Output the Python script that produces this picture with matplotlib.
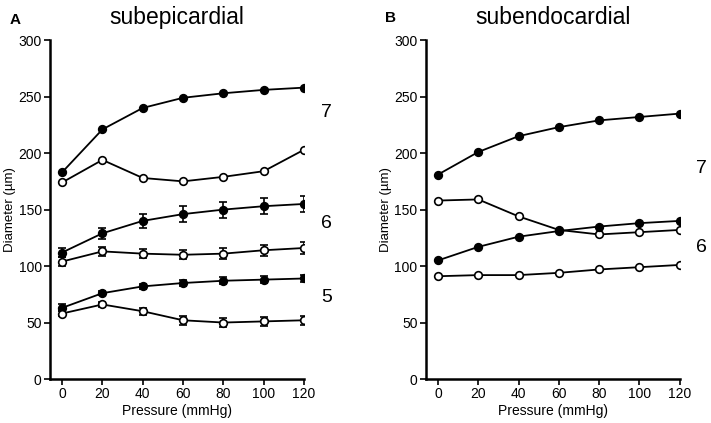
import matplotlib.pyplot as plt
import numpy as np

plt.rcParams['font.family'] = ['Liberation Sans', 'DejaVu Sans']

#-------------------------------
#         data
#-------------------------------
pressure = [0, 20, 40, 60, 80, 100, 120]

# subepicardial (A)
epi_closed_7 = [183, 221, 240, 249, 253, 256, 258]
epi_open_7 = [174, 194, 178, 175, 179, 184, 203]
epi_closed_6 = [112, 129, 140, 146, 150, 153, 155]
epi_closed_6_err = [4, 5, 6, 7, 7, 7, 7]
epi_open_6 = [104, 113, 111, 110, 111, 114, 116]
epi_open_6_err = [4, 4, 4, 4, 5, 5, 5]
epi_closed_5 = [63, 76, 82, 85, 87, 88, 89]
epi_closed_5_err = [3, 2, 2, 3, 3, 3, 3]
epi_open_5 = [58, 66, 60, 52, 50, 51, 52]
epi_open_5_err = [2, 2, 3, 4, 4, 4, 4]

# subendocardial (B)
endo_closed_7 = [181, 201, 215, 223, 229, 232, 235]
endo_open_7 = [158, 159, 144, 132, 128, 130, 132]
endo_closed_6 = [105, 117, 126, 131, 135, 138, 140]
endo_open_6 = [91, 92, 92, 94, 97, 99, 101]

#-------------------------------
#         plot
#-------------------------------
fig = plt.figure(figsize=(7.11, 4.23), dpi=100)
axA = fig.add_axes([0.0703, 0.104, 0.3573, 0.801])
axB = fig.add_axes([0.599, 0.104, 0.357, 0.801])


def draw(ax, y, err=None, filled=True):
    fc = 'black' if filled else 'white'
    ax.errorbar(pressure, y, yerr=err, color='black', lw=1.3, marker='o',
                ms=5.5, mfc=fc, mec='black', mew=1.2, capsize=3,
                elinewidth=1.2, capthick=1.2, zorder=3)


draw(axA, epi_closed_7)
draw(axA, epi_open_7, filled=False)
draw(axA, epi_closed_6, epi_closed_6_err)
draw(axA, epi_open_6, epi_open_6_err, filled=False)
draw(axA, epi_closed_5, epi_closed_5_err)
draw(axA, epi_open_5, epi_open_5_err, filled=False)

draw(axB, endo_closed_7)
draw(axB, endo_open_7, filled=False)
draw(axB, endo_closed_6)
draw(axB, endo_open_6, filled=False)

for ax, title in [(axA, 'subepicardial'), (axB, 'subendocardial')]:
    ax.set_xlim(-6, 120)
    ax.set_ylim(0, 300)
    ax.set_xticks(pressure)
    ax.set_yticks(np.arange(0, 301, 50))
    ax.spines['top'].set_visible(False)
    ax.spines['right'].set_visible(False)
    ax.spines['left'].set_linewidth(1.8)
    ax.spines['bottom'].set_linewidth(1.8)
    ax.tick_params(labelsize=10, width=1.2, length=4, pad=2)
    ax.set_xlabel('Pressure (mmHg)', fontsize=10, labelpad=2)
    ax.set_ylabel('Diameter (\u00b5m)', fontsize=9.5)
    ax.yaxis.set_label_coords(-0.132, 0.5)
    ax.set_title(title, fontsize=16.5, pad=12)

axA.text(131, 236, '7', fontsize=14, ha='center', va='center', clip_on=False)
axA.text(131, 138, '6', fontsize=14, ha='center', va='center', clip_on=False)
axA.text(131, 72, '5', fontsize=14, ha='center', va='center', clip_on=False)
axB.text(131, 186, '7', fontsize=14, ha='center', va='center', clip_on=False)
axB.text(131, 116, '6', fontsize=14, ha='center', va='center', clip_on=False)

fig.text(0.014, 0.952, 'A', fontsize=11, fontweight='bold', ha='left', va='center')
fig.text(0.541, 0.957, 'B', fontsize=11, fontweight='bold', ha='left', va='center')

plt.savefig('out.png', dpi=100)
